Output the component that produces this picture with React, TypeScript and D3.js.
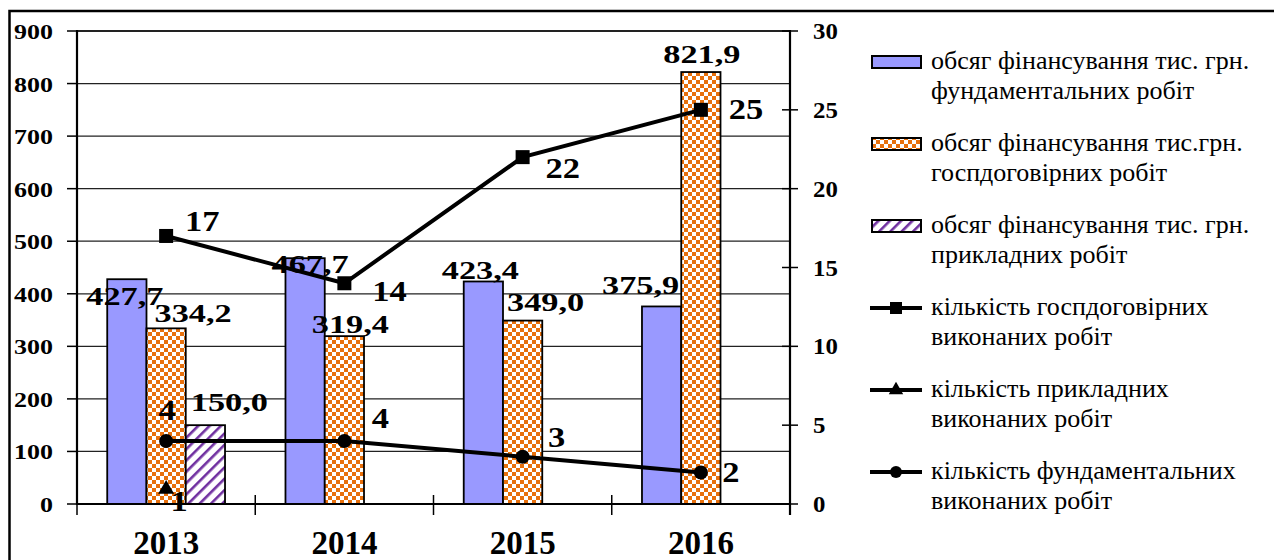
import React from "react";
import * as d3 from "d3";

// ---------- data ----------
const years = ["2013", "2014", "2015", "2016"];
const fundFinance = [427.7, 467.7, 423.4, 375.9];
const contractFinance = [334.2, 319.4, 349.0, 821.9];
const appliedFinance = [150.0, null, null, null];
const contractCount = [17, 14, 22, 25];
const appliedCount = [1, null, null, null];
const fundCount = [4, 4, 3, 2];
const leftTicks = [0, 100, 200, 300, 400, 500, 600, 700, 800, 900];
const rightTicks = [0, 5, 10, 15, 20, 25, 30];
const barKeys = ["fund", "contract", "applied"];
const legendLabels = [
  ["обсяг фінансування тис. грн.", "фундаментальних  робіт"],
  ["обсяг фінансування тис.грн.", "госпдоговірних робіт"],
  ["обсяг фінансування тис. грн.", "прикладних  робіт"],
  ["кількість госпдоговірних", "виконаних робіт"],
  ["кількість прикладних", "виконаних робіт"],
  ["кількість фундаментальних", "виконаних робіт"],
];

// ---------- label offsets (layout) ----------
const fundLabelOff = [[-2, 26], [5, 15], [-3, -2], [-21, -12]];
const contractLabelOff = [[27, -6], [6, -3], [23, -10], [1, -9]];
const appliedLabelOff = [[24, -14], [0, 0], [0, 0], [0, 0]];
const contractCountOff = [[36, -5], [45, 18], [40, 21], [45, 9]];
const fundCountOff = [[1, -21], [36, -13], [34, -10], [30, 10]];
const appliedCountOff = [[13, 23], [0, 0], [0, 0], [0, 0]];

const FONT = '"Times New Roman", "Liberation Serif", Times, serif';
const BLUE = "#9999FF";
const ORANGE = "#E8700C";
const PURPLE = "#7030A0";

const L = 77, R = 790, TOP = 31, BOT = 504;

const T = ({ x, y, size, sx = 1, anchor = "middle", weight = "bold", children }: any) => (
  <text
    transform={`translate(${x},${y}) scale(${sx},1)`}
    style={{ fontFamily: FONT, fontSize: size + "px", fontWeight: weight }}
    textAnchor={anchor}
    fill="#000"
  >
    {children}
  </text>
);

const fmt = (v: number) => v.toFixed(1).replace(".", ",");

export default function App() {
  const x = d3.scaleBand<string>().domain(years).range([L, R]).paddingInner(0).paddingOuter(0);
  const xs = d3.scaleBand<string>().domain(barKeys).range([0, x.bandwidth()]).paddingInner(0).paddingOuter(0.77);
  const yL = d3.scaleLinear().domain([0, 900]).range([BOT, TOP]);
  const yR = d3.scaleLinear().domain([0, 30]).range([BOT, TOP]);
  const bw = xs.bandwidth();
  const cx = (i: number) => (x(years[i]) as number) + x.bandwidth() / 2;

  const series = [
    { key: "fund", vals: fundFinance, fill: BLUE, off: fundLabelOff },
    { key: "contract", vals: contractFinance, fill: "url(#checker)", off: contractLabelOff },
    { key: "applied", vals: appliedFinance, fill: "url(#hatch)", off: appliedLabelOff },
  ];

  const lineGen = d3
    .line<any>()
    .defined((d) => d.v != null)
    .x((d) => d.x)
    .y((d) => yR(d.v));

  const pts = (arr: (number | null)[]) => arr.map((v, i) => ({ x: cx(i), v }));

  const legendX = 870;
  const legendY0 = 69;
  const legendStep = 82;

  return (
    <svg width={1274} height={560} style={{ position: "absolute", left: 0, top: 0, background: "#fff" }}>
      <defs>
        <pattern id="checker" width={8} height={8} patternUnits="userSpaceOnUse">
          <rect width={8} height={8} fill="#fff" />
          <rect x={0} y={0} width={4} height={4} fill={ORANGE} />
          <rect x={4} y={4} width={4} height={4} fill={ORANGE} />
        </pattern>
        <pattern id="hatch" width={8} height={8} patternUnits="userSpaceOnUse" patternTransform="rotate(45)">
          <rect width={8} height={8} fill="#fff" />
          <rect x={0} y={0} width={2.6} height={8} fill={PURPLE} />
        </pattern>
      </defs>
      <rect x={0} y={0} width={1274} height={560} fill="#fff" />
      {/* outer border */}
      <rect x={9.5} y={11} width={1280} height={600} fill="none" stroke="#000" strokeWidth={2.5} />

      {/* gridlines */}
      {leftTicks.map((t) => (
        <line key={t} x1={L} x2={R} y1={yL(t)} y2={yL(t)} stroke="#222" strokeWidth={t === 900 ? 2 : 1.2} />
      ))}

      {/* bars */}
      {series.map((s) =>
        s.vals.map((v, i) =>
          v == null ? null : (
            <rect
              key={s.key + i}
              x={(x(years[i]) as number) + (xs(s.key) as number)}
              y={yL(v)}
              width={bw}
              height={BOT - yL(v)}
              fill={s.fill}
              stroke="#000"
              strokeWidth={1.8}
            />
          )
        )
      )}

      {/* axes */}
      <line x1={L} x2={L} y1={TOP - 1} y2={BOT + 1} stroke="#000" strokeWidth={2.2} />
      <line x1={R} x2={R} y1={TOP - 1} y2={BOT + 11} stroke="#000" strokeWidth={2.2} />
      <line x1={L - 1} x2={R + 1} y1={BOT} y2={BOT} stroke="#000" strokeWidth={2.2} />
      {leftTicks.map((t) => (
        <g key={"lt" + t}>
          <line x1={L - 10} x2={L} y1={yL(t)} y2={yL(t)} stroke="#000" strokeWidth={1.5} />
          <T x={53} y={yL(t) + 8} size={22} sx={1.18} anchor="end">{t}</T>
        </g>
      ))}
      {rightTicks.map((t) => (
        <g key={"rt" + t}>
          <line x1={R - 8} x2={R + 8} y1={yR(t)} y2={yR(t)} stroke="#000" strokeWidth={1.5} />
          <T x={813} y={yR(t) + 8} size={23} sx={1.08} anchor="start">{t}</T>
        </g>
      ))}
      {years.map((yv) => (
        <line key={"xt" + yv} x1={x(yv) as number} x2={x(yv) as number} y1={BOT - 9} y2={BOT + 11} stroke="#000" strokeWidth={1.5} />
      ))}
      {years.map((yv, i) => (
        <T key={"xl" + yv} x={cx(i)} y={554} size={33}>{yv}</T>
      ))}

      {/* lines */}
      <path d={lineGen(pts(contractCount)) as string} fill="none" stroke="#000" strokeWidth={4} />
      <path d={lineGen(pts(fundCount)) as string} fill="none" stroke="#000" strokeWidth={4} />
      {pts(contractCount).map((p, i) => (
        <rect key={"sq" + i} x={p.x - 7} y={yR(p.v as number) - 7} width={14} height={14} fill="#000" />
      ))}
      {pts(fundCount).map((p, i) => (
        <circle key={"ci" + i} cx={p.x} cy={yR(p.v as number)} r={7} fill="#000" />
      ))}
      {pts(appliedCount).map((p, i) =>
        p.v == null ? null : (
          <path key={"tr" + i} d={d3.symbol(d3.symbolTriangle, 110)() as string} transform={`translate(${p.x},${yR(p.v) + 1})`} fill="#000" />
        )
      )}

      {/* bar labels */}
      {series.map((s) =>
        s.vals.map((v, i) =>
          v == null ? null : (
            <T
              key={"bl" + s.key + i}
              x={(x(years[i]) as number) + (xs(s.key) as number) + bw / 2 + s.off[i][0]}
              y={yL(v) + s.off[i][1]}
              size={26}
              sx={1.32}
            >
              {fmt(v)}
            </T>
          )
        )
      )}
      {/* line labels */}
      {[
        { vals: contractCount, off: contractCountOff },
        { vals: fundCount, off: fundCountOff },
        { vals: appliedCount, off: appliedCountOff },
      ].map((s, si) =>
        s.vals.map((v, i) =>
          v == null ? null : (
            <T key={"ll" + si + i} x={cx(i) + s.off[i][0]} y={yR(v) + s.off[i][1]} size={30} sx={1.15}>
              {v}
            </T>
          )
        )
      )}

      {/* legend */}
      {legendLabels.map((lines, k) => {
        const by = legendY0 + k * legendStep;
        const my = by - 7;
        let sw: any = null;
        if (k < 3) {
          const fill = k === 0 ? BLUE : k === 1 ? "url(#checker)" : "url(#hatch)";
          sw = <rect x={legendX + 2} y={my - 6} width={49} height={12} fill={fill} stroke="#000" strokeWidth={2} />;
        } else {
          const mcx = legendX + 26;
          sw = (
            <g>
              <line x1={legendX} x2={legendX + 52} y1={my} y2={my} stroke="#000" strokeWidth={4} />
              {k === 3 && <rect x={mcx - 6} y={my - 6} width={12} height={12} fill="#000" />}
              {k === 4 && <path d={d3.symbol(d3.symbolTriangle, 90)() as string} transform={`translate(${mcx},${my})`} fill="#000" />}
              {k === 5 && <circle cx={mcx} cy={my} r={6} fill="#000" />}
            </g>
          );
        }
        return (
          <g key={"lg" + k}>
            {sw}
            <T x={931} y={by} size={26} anchor="start" weight="normal">{lines[0]}</T>
            <T x={931} y={by + 30} size={26} anchor="start" weight="normal">{lines[1]}</T>
          </g>
        );
      })}
    </svg>
  );
}
